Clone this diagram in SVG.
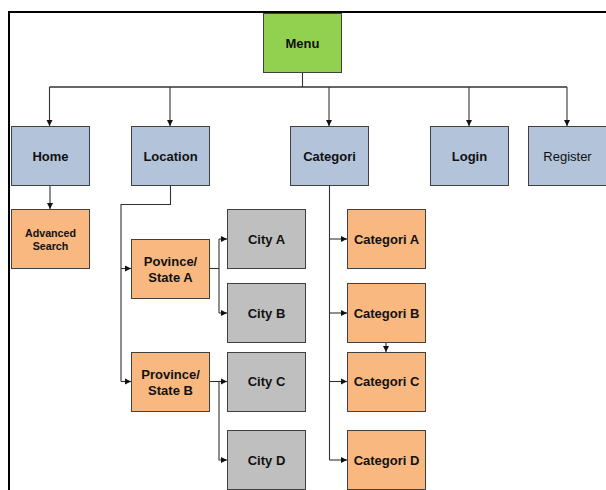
<svg xmlns="http://www.w3.org/2000/svg" width="606" height="490" viewBox="0 0 606 490">
<style>
.box{stroke:#404040;stroke-width:1}
.g{fill:#92d050}.b{fill:#b3c3da}.o{fill:#f8b880}.y{fill:#bfbfbf}
text{font-family:"Liberation Sans",Arial,sans-serif;font-size:13px;font-weight:bold;fill:#111;text-anchor:middle;dominant-baseline:central}
.reg{font-weight:normal}
.sm{font-size:10.7px}
.c{fill:none;stroke:#333;stroke-width:1.1}
</style>
<defs>
<marker id="ah" markerUnits="userSpaceOnUse" markerWidth="7" markerHeight="7" refX="6" refY="3.5" orient="auto">
<path d="M0,0.5 L6,3.5 L0,6.5 z" fill="#111"/>
</marker>
</defs>
<rect width="606" height="490" fill="#fff"/>
<path d="M9,490 V12 H606" fill="none" stroke="#000" stroke-width="2"/>
<g id="connectors">
<path class="c" d="M302.5,72 V87"/>
<path class="c" d="M49.5,87 H567" style="stroke-width:1.4"/>
<path class="c" d="M49.5,87 V126" marker-end="url(#ah)"/>
<path class="c" d="M170,87 V126" marker-end="url(#ah)"/>
<path class="c" d="M329,87 V126" marker-end="url(#ah)"/>
<path class="c" d="M469,87 V126" marker-end="url(#ah)"/>
<path class="c" d="M567,87 V126" marker-end="url(#ah)"/>
<path class="c" d="M50,185 V209" marker-end="url(#ah)"/>
<path class="c" d="M170.5,185 V204.5 H121 V381.5"/>
<path class="c" d="M121,268.5 H131" marker-end="url(#ah)"/>
<path class="c" d="M121,381.5 H131" marker-end="url(#ah)"/>
<path class="c" d="M209,268.5 H219"/>
<path class="c" d="M219,239 V313"/>
<path class="c" d="M219,239 H227" marker-end="url(#ah)"/>
<path class="c" d="M219,313 H227" marker-end="url(#ah)"/>
<path class="c" d="M209,381.5 H227" marker-end="url(#ah)"/>
<path class="c" d="M219,381.5 V460 H227" marker-end="url(#ah)"/>
<path class="c" d="M329.5,185 V460"/>
<path class="c" d="M329.5,239 H347" marker-end="url(#ah)"/>
<path class="c" d="M329.5,313 H347" marker-end="url(#ah)"/>
<path class="c" d="M329.5,381.5 H347" marker-end="url(#ah)"/>
<path class="c" d="M329.5,460 H347" marker-end="url(#ah)"/>
<path class="c" d="M386,342.5 V352" marker-end="url(#ah)"/>
</g>
<g id="menu"><rect class="box g" x="263.5" y="13.5" width="78" height="59"/><text x="302.5" y="43">Menu</text></g>
<g id="home"><rect class="box b" x="11.5" y="126.5" width="78" height="59"/><text x="50.5" y="156">Home</text></g>
<g id="location"><rect class="box b" x="131.5" y="126.5" width="78" height="59"/><text x="170.5" y="156">Location</text></g>
<g id="categori"><rect class="box b" x="290.5" y="126.5" width="78" height="59"/><text x="329.5" y="156">Categori</text></g>
<g id="login"><rect class="box b" x="430.5" y="126.5" width="78" height="59"/><text x="469.5" y="156">Login</text></g>
<g id="register"><rect class="box b" x="528.5" y="126.5" width="78" height="59"/><text class="reg" x="567.5" y="156">Register</text></g>
<g id="advanced-search"><rect class="box o" x="11.5" y="209.5" width="78" height="59"/><text class="sm" x="50.5" y="232.5">Advanced</text><text class="sm" x="50.5" y="245.5">Search</text></g>
<g id="province-a"><rect class="box o" x="131.5" y="239.5" width="78" height="59"/><text x="170.5" y="261">Povince/</text><text x="170.5" y="277">State A</text></g>
<g id="province-b"><rect class="box o" x="131.5" y="352.5" width="78" height="59"/><text x="170.5" y="374">Province/</text><text x="170.5" y="390">State B</text></g>
<g id="city-a"><rect class="box y" x="227.5" y="209.5" width="78" height="59"/><text x="266.5" y="239">City A</text></g>
<g id="city-b"><rect class="box y" x="227.5" y="283.5" width="78" height="59"/><text x="266.5" y="313">City B</text></g>
<g id="city-c"><rect class="box y" x="227.5" y="352.5" width="78" height="59"/><text x="266.5" y="381.5">City C</text></g>
<g id="city-d"><rect class="box y" x="227.5" y="430.5" width="78" height="59"/><text x="266.5" y="460">City D</text></g>
<g id="categori-a"><rect class="box o" x="347.5" y="209.5" width="78" height="59"/><text x="386.5" y="239">Categori A</text></g>
<g id="categori-b"><rect class="box o" x="347.5" y="283.5" width="78" height="59"/><text x="386.5" y="313">Categori B</text></g>
<g id="categori-c"><rect class="box o" x="347.5" y="352.5" width="78" height="59"/><text x="386.5" y="381.5">Categori C</text></g>
<g id="categori-d"><rect class="box o" x="347.5" y="430.5" width="78" height="59"/><text x="386.5" y="460">Categori D</text></g>
</svg>
